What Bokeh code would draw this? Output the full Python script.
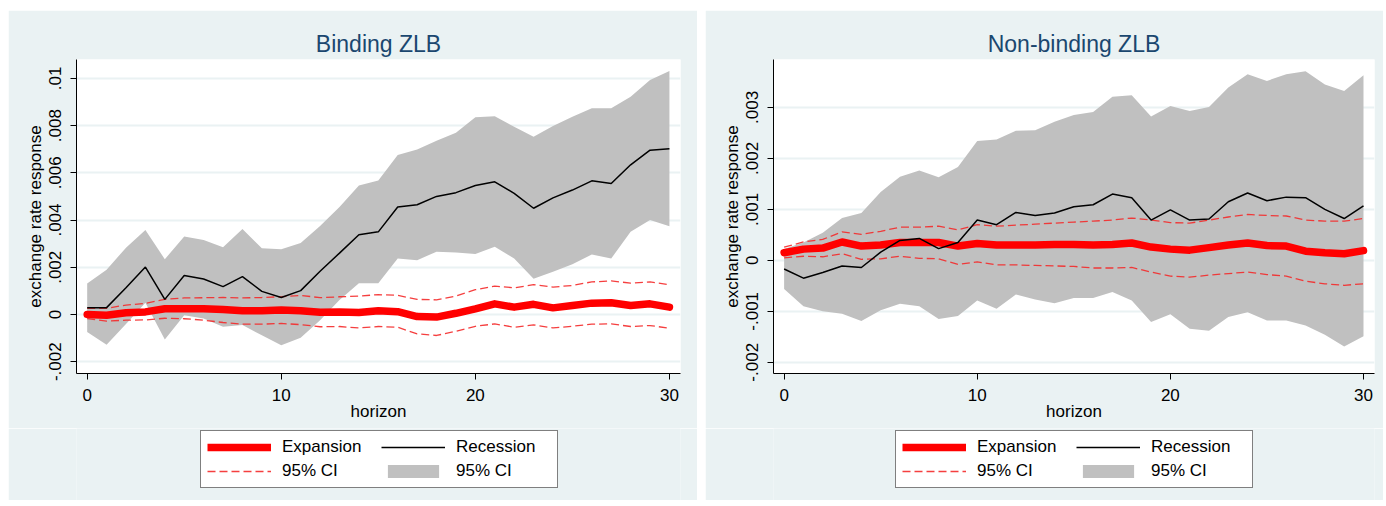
from bokeh.plotting import figure
from bokeh.models import Legend, LegendItem, FixedTicker, Spacer, Range1d
from bokeh.layouts import row, column
from bokeh.embed import file_html
from bokeh.resources import INLINE

horizon = list(range(31))

# ---- Binding ZLB ----
b_exp = [0.0, -0.00003, 0.00007, 0.00011, 0.00024, 0.00024, 0.00024, 0.00021, 0.00016, 0.00016,
         0.00019, 0.00016, 0.00009, 0.0001, 0.00008, 0.00016, 0.00012, -0.00009, -0.00011, 0.00005,
         0.00024, 0.00045, 0.00031, 0.00043, 0.00028, 0.00038, 0.00048, 0.0005, 0.00038, 0.00045, 0.00031]
b_exp_hi = [0.00026, 0.00026, 0.0004, 0.00047, 0.00064, 0.0007, 0.00071, 0.00072, 0.0007, 0.00072,
            0.00075, 0.00081, 0.00071, 0.00075, 0.00078, 0.00084, 0.00081, 0.00064, 0.00062, 0.00078,
            0.00105, 0.0012, 0.00113, 0.00126, 0.00116, 0.00123, 0.00138, 0.00142, 0.00133, 0.00138, 0.00126]
b_exp_lo = [-0.00017, -0.00028, -0.00024, -0.00023, -0.00016, -0.00018, -0.00024, -0.00034, -0.00041, -0.00041,
            -0.00038, -0.00043, -0.00052, -0.00051, -0.00057, -0.00051, -0.00054, -0.00082, -0.00089, -0.00071,
            -0.0005, -0.0004, -0.00054, -0.00044, -0.00057, -0.0005, -0.00041, -0.0004, -0.00051, -0.00047, -0.00058]
b_rec = [0.00029, 0.00029, 0.00113, 0.00201, 0.00064, 0.00165, 0.0015, 0.00118, 0.0016, 0.00098,
         0.00072, 0.00101, 0.00183, 0.0026, 0.00338, 0.0035, 0.00455, 0.00465, 0.005, 0.00516,
         0.00546, 0.00562, 0.00513, 0.0045, 0.00494, 0.00527, 0.00566, 0.00555, 0.00634, 0.00696, 0.00702]
b_rec_hi = [0.00131, 0.00189, 0.00283, 0.00358, 0.00234, 0.0033, 0.00315, 0.00285, 0.00362, 0.0028,
            0.00276, 0.00303, 0.00375, 0.00455, 0.00546, 0.00568, 0.00675, 0.00699, 0.00736, 0.0077,
            0.00835, 0.0084, 0.00795, 0.00753, 0.00798, 0.00838, 0.00873, 0.00873, 0.00922, 0.00993, 0.01031]
b_rec_lo = [-0.00074, -0.00128, -0.0004, 0.0005, -0.00106, -0.00003, -0.00017, -0.00052, -0.00045, -0.00088,
            -0.0013, -0.00099, -0.00024, 0.00061, 0.00132, 0.00132, 0.00237, 0.0023, 0.00266, 0.00263,
            0.00256, 0.00287, 0.00237, 0.00151, 0.00181, 0.00213, 0.00254, 0.00237, 0.0035, 0.004, 0.00374]

# ---- Non-binding ZLB ----
n_exp = [0.00015, 0.00022, 0.00024, 0.00036, 0.00028, 0.0003, 0.00035, 0.00035, 0.00035, 0.00028,
         0.00033, 0.0003, 0.0003, 0.0003, 0.00031, 0.00031, 0.0003, 0.00031, 0.00034, 0.00026,
         0.00022, 0.0002, 0.00025, 0.0003, 0.00034, 0.00029, 0.00028, 0.00018, 0.00015, 0.00013, 0.00019]
n_exp_hi = [0.00026, 0.00036, 0.00041, 0.00056, 0.00051, 0.00057, 0.00065, 0.00065, 0.00067, 0.0006,
            0.0007, 0.00067, 0.00069, 0.00071, 0.00073, 0.00075, 0.00077, 0.00079, 0.00083, 0.00079,
            0.00074, 0.00073, 0.00079, 0.00085, 0.0009, 0.00088, 0.00087, 0.00079, 0.00077, 0.00077, 0.00082]
n_exp_lo = [0.00005, 0.00008, 0.00007, 0.00013, 0.00002, 0.00003, 0.00008, 0.00004, 0.00003, -0.00008,
            -0.00003, -0.00009, -0.00009, -0.0001, -0.00011, -0.00012, -0.00015, -0.00015, -0.00014, -0.00023,
            -0.00031, -0.00033, -0.00029, -0.00026, -0.00023, -0.00028, -0.00031, -0.00041, -0.00046, -0.00049, -0.00046]
n_rec = [-0.00017, -0.00035, -0.00024, -0.00011, -0.00014, 0.00016, 0.00039, 0.00043, 0.00023, 0.00035,
         0.00079, 0.0007, 0.00094, 0.00088, 0.00093, 0.00105, 0.00109, 0.0013, 0.00123, 0.00079,
         0.00099, 0.00079, 0.00081, 0.00115, 0.00132, 0.00117, 0.00124, 0.00123, 0.001, 0.00082, 0.00107]
n_rec_hi = [0.00022, 0.00035, 0.00054, 0.00083, 0.00093, 0.00134, 0.00164, 0.00176, 0.00163, 0.00183,
            0.00234, 0.00237, 0.00254, 0.00255, 0.00272, 0.00285, 0.00291, 0.00321, 0.00324, 0.00282,
            0.00303, 0.00293, 0.00301, 0.00339, 0.00365, 0.00352, 0.00365, 0.00371, 0.00345, 0.00332, 0.00363]
n_rec_lo = [-0.00056, -0.0009, -0.001, -0.00105, -0.00119, -0.00098, -0.00085, -0.0009, -0.00115, -0.00109,
            -0.00079, -0.00095, -0.00067, -0.00077, -0.00084, -0.00074, -0.00074, -0.00062, -0.00079, -0.00121,
            -0.00106, -0.00134, -0.00138, -0.00111, -0.00102, -0.00118, -0.00118, -0.00128, -0.00146, -0.00169, -0.00149]

x_ticks = [0, 10, 20, 30]
b_yticks = [-0.002, 0.0, 0.002, 0.004, 0.006, 0.008, 0.01]
b_ylabels = ["-.002", "0", ".002", ".004", ".006", ".008", ".01"]
n_yticks = [-0.002, -0.001, 0.0, 0.001, 0.002, 0.003]
n_ylabels = ["-.002", "-.001", "0", ".001", ".002", ".003"]
legend_labels = ["Expansion", "Recession", "95% CI", "95% CI"]

BG = "#eaf2f3"
FONT = "Liberation Sans"
RED = "#ff0000"
DASH_RED = "#f42a2a"
BAND = "#c0c0c0"
MAIN_H = 418
LEG_H = 72


def make(title, exp, lo, hi, rec, rlo, rhi, yrange, yticks, ylabels, width, min_right, legend_x):
    p = figure(width=width, height=MAIN_H, x_range=Range1d(-0.55, 30.57), y_range=Range1d(*yrange),
               output_backend="svg", toolbar_location=None,
               min_border_left=68, min_border_right=min_right, min_border_top=49,
               min_border_bottom=MAIN_H - 49 - 314)
    p.background_fill_color = "white"
    p.border_fill_color = BG
    p.outline_line_color = None

    p.title.text = title
    p.title.align = "center"
    p.title.text_font = FONT
    p.title.text_font_size = "23px"
    p.title.text_font_style = "normal"
    p.title.text_color = "#1a476f"
    p.title.standoff = 6

    p.varea(x=horizon, y1=rlo, y2=rhi, fill_color=BAND, fill_alpha=1.0)
    p.line(horizon, exp, line_color=RED, line_width=7.5, line_cap="round", line_join="round")
    p.line(horizon, hi, line_color=DASH_RED, line_width=1.3, line_dash="8 4", line_alpha=0.9)
    p.line(horizon, lo, line_color=DASH_RED, line_width=1.3, line_dash="8 4", line_alpha=0.9)
    p.line(horizon, rec, line_color="black", line_width=1.5)

    p.xgrid.visible = False
    p.ygrid.grid_line_color = BG
    p.ygrid.grid_line_width = 2

    p.xaxis.ticker = FixedTicker(ticks=x_ticks)
    p.yaxis.ticker = FixedTicker(ticks=yticks)
    p.yaxis.major_label_overrides = {t: l for t, l in zip(yticks, ylabels)}
    p.yaxis.major_label_orientation = "vertical"
    p.xaxis.axis_label = "horizon"
    p.yaxis.axis_label = "exchange rate response"
    for ax in (p.xaxis, p.yaxis):
        ax.axis_line_color = "black"
        ax.axis_line_width = 1
        ax.major_tick_line_color = "black"
        ax.major_tick_out = 6
        ax.major_tick_in = 0
        ax.minor_tick_out = 0
        ax.minor_tick_in = 0
        ax.major_label_text_font = FONT
        ax.major_label_text_font_size = "17px"
        ax.major_label_text_color = "black"
        ax.axis_label_text_font = FONT
        ax.axis_label_text_font_size = "17px"
        ax.axis_label_text_font_style = "normal"
        ax.axis_label_text_color = "black"
        ax.major_label_standoff = 9
    p.xaxis.axis_label_standoff = -2
    p.yaxis.axis_label_standoff = 2

    # legend strip below the plot, same panel background (no title, no axes)
    q = figure(width=width, height=LEG_H, x_range=Range1d(0, 1), y_range=Range1d(0, 1),
               output_backend="svg", toolbar_location=None, title=None,
               x_axis_location=None, y_axis_location=None,
               min_border_left=68, min_border_right=min_right, min_border_top=0, min_border_bottom=0)
    q.background_fill_color = BG
    q.border_fill_color = BG
    q.outline_line_color = None
    q.grid.visible = False
    # legend keys only: their data lie outside the strip's visible range
    g_exp = q.line([-5, -4], [-5, -5], line_color=RED, line_width=7.5)
    g_rec = q.line([-5, -4], [-5, -5], line_color="black", line_width=1.5)
    g_ci = q.line([-5, -4], [-5, -5], line_color=DASH_RED, line_width=1.3, line_dash="8 4", line_alpha=0.9)
    g_band = q.varea(x=[-5, -4], y1=[-5, -5], y2=[-4, -4], fill_color=BAND, fill_alpha=1.0)

    legend = Legend(items=[LegendItem(label=lab, renderers=[r])
                           for lab, r in zip(legend_labels, [g_exp, g_rec, g_ci, g_band])],
                    location=(legend_x, 12), orientation="horizontal", ncols=2)
    legend.label_text_font = FONT
    legend.label_text_font_size = "17px"
    legend.label_text_color = "black"
    legend.glyph_width = 64
    legend.glyph_height = 16
    legend.label_height = 16
    legend.label_width = 95
    legend.label_standoff = 11
    legend.padding = 6
    legend.spacing = 4
    legend.margin = 0
    legend.border_line_color = "black"
    legend.border_line_width = 1
    legend.background_fill_color = "white"
    legend.background_fill_alpha = 1.0
    q.add_layout(legend)
    return column(p, q, spacing=0)


left = make("Binding ZLB", b_exp, b_exp_lo, b_exp_hi, b_rec, b_rec_lo, b_rec_hi,
            (-0.0025, 0.0108), b_yticks, b_ylabels, 689, 17, 124)
right = make("Non-binding ZLB", n_exp, n_exp_lo, n_exp_hi, n_rec, n_rec_lo, n_rec_hi,
             (-0.00222, 0.00394), n_yticks, n_ylabels, 678, 9, 122)

layout = column(Spacer(height=10), row(Spacer(width=8), left, Spacer(width=8), right, spacing=0), spacing=0)
open("out.html", "w").write(file_html(layout, INLINE))
